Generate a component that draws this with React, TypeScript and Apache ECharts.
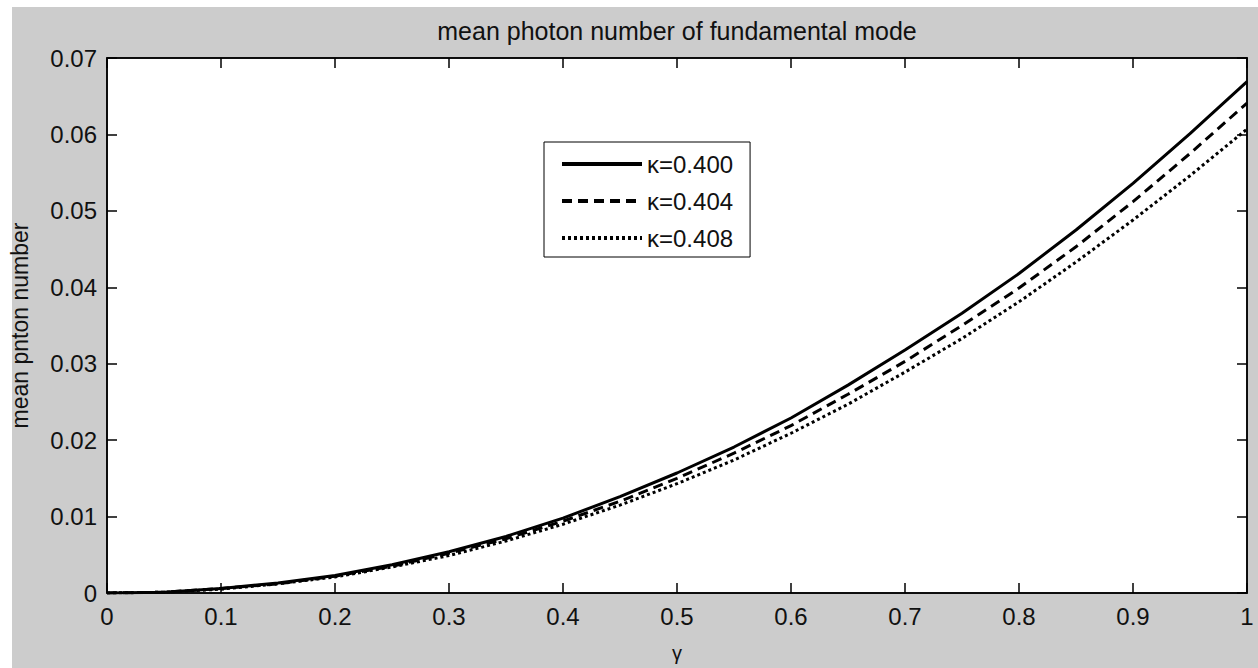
import React, { useEffect, useRef } from "react";
import * as echarts from "echarts";

const titleText = "mean photon number of fundamental mode";
const xAxisName = "γ";
const yAxisName = "mean pnton number";

const gamma = [0, 0.05, 0.1, 0.15, 0.2, 0.25, 0.3, 0.35, 0.4, 0.45, 0.5, 0.55, 0.6, 0.65, 0.7, 0.75, 0.8, 0.85, 0.9, 0.95, 1.0];
const kappa400 = [0, 0.0001, 0.0006, 0.0013, 0.0023, 0.0037, 0.0054, 0.0074, 0.0098, 0.0126, 0.0157, 0.0191, 0.0229, 0.0272, 0.0318, 0.0366, 0.0418, 0.0475, 0.0536, 0.0601, 0.0669];
const kappa404 = [0, 0.0001, 0.0006, 0.0012, 0.0022, 0.0035, 0.0052, 0.0071, 0.0094, 0.0120, 0.0150, 0.0183, 0.0219, 0.0260, 0.0303, 0.0350, 0.0399, 0.0453, 0.0512, 0.0575, 0.0641];
const kappa408 = [0, 0.0001, 0.0005, 0.0012, 0.0021, 0.0034, 0.0049, 0.0068, 0.0090, 0.0115, 0.0143, 0.0174, 0.0209, 0.0247, 0.0289, 0.0333, 0.0381, 0.0433, 0.0488, 0.0546, 0.0607];
const seriesNames = ["κ=0.400", "κ=0.404", "κ=0.408"];

const FONT = "'Liberation Sans', Arial, sans-serif";

export default function App() {
  const ref = useRef<HTMLDivElement>(null);

  useEffect(() => {
    if (!ref.current) return;
    const chart = echarts.init(ref.current, undefined, { renderer: "svg" });
    const pairs = (ys: number[]) => gamma.map((g, i) => [g, ys[i]]);
    const lineTypes: any[] = ["solid", [10, 6], [3, 3]];
    const dataSets = [kappa400, kappa404, kappa408];

    const axisLine = { show: true, onZero: false, lineStyle: { color: "#000", width: 1.5 } };
    const axisTick = () => ({ show: true, inside: true, length: 10, lineStyle: { color: "#000", width: 1.5 } });

    chart.setOption({
      animation: false,
      backgroundColor: "#cccccc",
      title: {
        text: titleText,
        left: 672,
        top: 13,
        textAlign: "center",
        textStyle: { fontFamily: FONT, fontSize: 25, fontWeight: "normal", color: "#111" },
      },
      graphic: [
        { type: "rect", left: 0, top: 0, shape: { width: 12, height: 668 }, style: { fill: "#ffffff" }, silent: true },
        { type: "rect", left: 0, top: 0, shape: { width: 1258, height: 7 }, style: { fill: "#ffffff" }, silent: true },
      ],
      grid: {
        left: 105,
        right: 11,
        top: 58,
        bottom: 70,
        show: true,
        backgroundColor: "#ffffff",
        borderColor: "#000",
        borderWidth: 1.5,
      },
      legend: {
        orient: "vertical",
        left: 544,
        top: 142,
        itemWidth: 80,
        itemHeight: 20,
        itemGap: 13,
        padding: [10, 17, 7, 16],
        borderColor: "#000",
        borderWidth: 1,
        backgroundColor: "#ffffff",
        borderRadius: 0,
        data: seriesNames,
        itemStyle: { opacity: 0, borderWidth: 0 },
        lineStyle: { width: 4 },
        textStyle: { fontFamily: FONT, fontSize: 24, color: "#111" },
      },
      xAxis: [
        {
          type: "value",
          min: 0,
          max: 1,
          interval: 0.1,
          position: "bottom",
          name: xAxisName,
          nameLocation: "middle",
          nameGap: 50,
          nameTextStyle: { fontFamily: FONT, fontSize: 20, color: "#111" },
          axisLabel: { fontFamily: FONT, fontSize: 24, color: "#111", margin: 11 },
          axisLine,
          axisTick: axisTick(),
          splitLine: { show: false },
        },
        {
          type: "value",
          min: 0,
          max: 1,
          interval: 0.1,
          position: "top",
          axisLabel: { show: false },
          axisLine,
          axisTick: axisTick(),
          splitLine: { show: false },
        },
      ],
      yAxis: [
        {
          type: "value",
          min: 0,
          max: 0.07,
          interval: 0.01,
          position: "left",
          name: yAxisName,
          nameLocation: "middle",
          nameRotate: 90,
          nameGap: 76,
          nameTextStyle: { fontFamily: FONT, fontSize: 23, color: "#111" },
          axisLabel: { fontFamily: FONT, fontSize: 24, color: "#111", margin: 10 },
          axisLine,
          axisTick: axisTick(),
          splitLine: { show: false },
        },
        {
          type: "value",
          min: 0,
          max: 0.07,
          interval: 0.01,
          position: "right",
          axisLabel: { show: false },
          axisLine,
          axisTick: axisTick(),
          splitLine: { show: false },
        },
      ],
      series: dataSets.map((ys, i) => ({
        name: seriesNames[i],
        type: "line",
        xAxisIndex: 0,
        yAxisIndex: 0,
        data: pairs(ys),
        symbol: "none",
        showSymbol: false,
        smooth: false,
        lineStyle: { color: "#000", width: 3, type: lineTypes[i] },
        itemStyle: { color: "#000" },
      })),
    });

    return () => chart.dispose();
  }, []);

  return (
    <div style={{ position: "fixed", left: 0, top: 0, width: 1258, height: 668, background: "#fff" }}>
      <div ref={ref} style={{ width: 1258, height: 668 }} />
    </div>
  );
}
